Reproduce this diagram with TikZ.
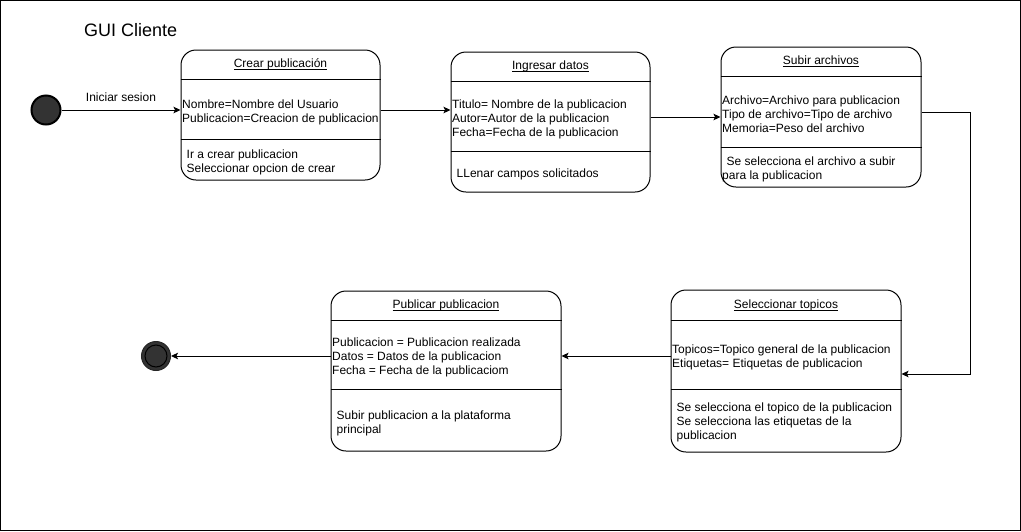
\documentclass[tikz,border=0pt]{standalone}
\usepackage{fontspec}
\setmainfont{Liberation Sans}
\usepackage{tikz}
\usetikzlibrary{positioning, calc, arrows.meta}

\newcommand{\subrayado}[1]{\setbox0=\hbox{#1}\rlap{\rule[-2pt]{\wd0}{0.9pt}}\box0}

\begin{document}
\begin{tikzpicture}[x=1pt, y=-1pt,
    every node/.style={font=\fontsize{12}{14}\selectfont},
    estado/.style={rectangle, draw, line width=1pt, rounded corners=15pt, inner sep=0pt},
    titulo/.style={anchor=base, inner sep=0pt},
    texto/.style={anchor=west, align=left, inner sep=0pt},
    flecha/.style={-{Stealth[length=7pt, width=6.5pt, inset=1.5pt]}, line width=1pt}]

    \useasboundingbox (0,0) rectangle (1021,531);
    \draw[line width=1pt] (0.5,0.5) rectangle (1020.5,530.5);

    \node[anchor=west, inner sep=0pt, font=\fontsize{18}{22}\selectfont] (gui) at (84,30) {GUI Cliente};

    \node[circle, draw, line width=2pt, fill=black!80, minimum size=29pt, inner sep=0pt] (inicio) at (46,110) {};

    % Crear publicacion
    \node[estado, minimum width=199pt, minimum height=130pt] (crear) at (280.5,115) {};
    \node[titulo] (crear-t) at ($(crear.north)+(0,18)$) {\subrayado{Crear publicación}};
    \draw ($(crear.north west)+(0,30)$) -- ($(crear.north east)+(0,30)$);
    \draw ($(crear.north west)+(0,90)$) -- ($(crear.north east)+(0,90)$);
    \node[texto] (crear-a) at ($(crear.north west)+(1.5,63)$) {Nombre=Nombre del Usuario\\Publicacion=Creacion de publicacion};
    \node[texto] (crear-b) at ($(crear.north west)+(6,113)$) {Ir a crear publicacion\\Seleccionar opcion de crear};

    % Ingresar datos
    \node[estado, minimum width=199pt, minimum height=140pt] (ingresar) at (550.5,122) {};
    \node[titulo] (ingresar-t) at ($(ingresar.north)+(0,18)$) {\subrayado{Ingresar datos}};
    \draw ($(ingresar.north west)+(0,30)$) -- ($(ingresar.north east)+(0,30)$);
    \draw ($(ingresar.north west)+(0,100)$) -- ($(ingresar.north east)+(0,100)$);
    \node[texto] (ingresar-a) at ($(ingresar.north west)+(1.5,67.5)$) {Titulo= Nombre de la publicacion\\Autor=Autor de la publicacion\\Fecha=Fecha de la publicacion};
    \node[texto] (ingresar-b) at ($(ingresar.north west)+(6,123)$) {LLenar campos solicitados};

    % Subir archivos
    \node[estado, minimum width=200pt, minimum height=140pt] (subir) at (821,117) {};
    \node[titulo] (subir-t) at ($(subir.north)+(0,18)$) {\subrayado{Subir archivos}};
    \draw ($(subir.north west)+(0,30)$) -- ($(subir.north east)+(0,30)$);
    \draw ($(subir.north west)+(0,101)$) -- ($(subir.north east)+(0,101)$);
    \node[texto] (subir-a) at ($(subir.north west)+(1.5,68)$) {Archivo=Archivo para publicacion\\Tipo de archivo=Tipo de archivo\\Memoria=Peso del archivo};
    \node[texto] (subir-b) at ($(subir.north west)+(1.5,122.5)$) {\hspace*{4.5pt}Se selecciona el archivo a subir\\para la publicacion};

    % Seleccionar topicos
    \node[estado, minimum width=230pt, minimum height=162pt] (topicos) at (786,371) {};
    \node[titulo] (topicos-t) at ($(topicos.north)+(0,19)$) {\subrayado{Seleccionar topicos}};
    \draw ($(topicos.north west)+(0,31)$) -- ($(topicos.north east)+(0,31)$);
    \draw ($(topicos.north west)+(0,100)$) -- ($(topicos.north east)+(0,100)$);
    \node[texto] (topicos-a) at ($(topicos.north west)+(1.5,67.5)$) {Topicos=Topico general de la publicacion\\Etiquetas= Etiquetas de publicacion};
    \node[texto] (topicos-b) at ($(topicos.north west)+(6,133)$) {Se selecciona el topico de la publicacion\\Se selecciona las etiquetas de la\\publicacion};

    % Publicar publicacion
    \node[estado, minimum width=230pt, minimum height=160pt] (publicar) at (446,371) {};
    \node[titulo] (publicar-t) at ($(publicar.north)+(0,18)$) {\subrayado{Publicar publicacion}};
    \draw ($(publicar.north west)+(0,30)$) -- ($(publicar.north east)+(0,30)$);
    \draw ($(publicar.north west)+(0,99)$) -- ($(publicar.north east)+(0,99)$);
    \node[texto] (publicar-a) at ($(publicar.north west)+(1.5,67)$) {Publicacion = Publicacion realizada\\Datos = Datos de la publicacion\\Fecha = Fecha de la publicaciom};
    \node[texto] (publicar-b) at ($(publicar.north west)+(6,132.5)$) {Subir publicacion a la plataforma\\principal};

    \node[circle, draw=black!85, fill=black!80, line width=1pt, minimum size=29pt, inner sep=0pt] (fin) at (156,356) {};
    \node[circle, draw, line width=1pt, minimum size=22pt, inner sep=0pt] (fin-i) at (fin) {};

    \coordinate (codo) at (970,112);

    \draw[flecha] (inicio) -- (inicio -| crear.west) node[midway, above=8pt, inner sep=0pt] (sesion) {Iniciar sesion};
    \draw[flecha] (crear.east |- inicio) -- (ingresar.west |- inicio);
    \draw[flecha] (ingresar.east |- subir) -- (subir.west);
    \draw[flecha] (subir.east |- codo) -- (codo) |- ($(topicos.east)+(0,3)$);
    \draw[flecha] (topicos.west |- fin) -- (publicar.east |- fin);
    \draw[flecha] (publicar.west |- fin) -- (fin);
  \end{tikzpicture}
\end{document}
